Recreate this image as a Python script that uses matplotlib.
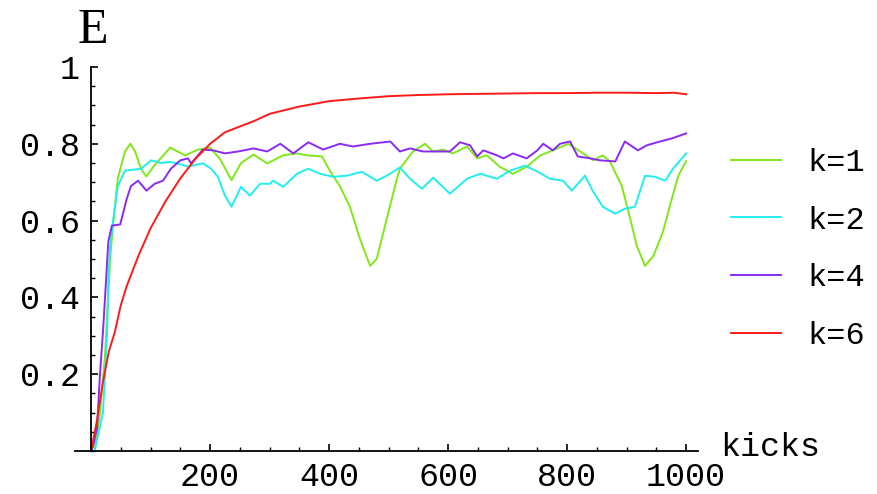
import matplotlib
matplotlib.use("Agg")
import matplotlib.pyplot as plt
from matplotlib.ticker import MultipleLocator, FixedLocator, FixedFormatter

# energy E versus number of kicks, for several k
x_k1 = [0, 6, 15, 23, 28, 32, 37, 45, 57, 66, 74, 84, 93, 107, 133, 158, 180, 200, 217, 236,
        252, 273, 296, 323, 346, 363, 388, 402, 418, 435, 452, 469, 480, 497, 514, 519, 541,
        561, 575, 592, 608, 632, 649, 665, 687, 709, 732, 755, 776, 802, 822, 844, 860, 872,
        892, 906, 917, 931, 945, 961, 976, 987, 1000]
y_k1 = [0, 0, 0.10, 0.24, 0.38, 0.50, 0.59, 0.71, 0.78, 0.80, 0.78, 0.735, 0.715, 0.745, 0.79,
        0.77, 0.785, 0.79, 0.76, 0.705, 0.75, 0.772, 0.749, 0.77, 0.775, 0.77, 0.767, 0.728,
        0.69, 0.636, 0.552, 0.482, 0.50, 0.605, 0.709, 0.735, 0.78, 0.80, 0.78, 0.785, 0.775,
        0.793, 0.762, 0.77, 0.74, 0.722, 0.74, 0.77, 0.783, 0.80, 0.78, 0.757, 0.77, 0.754,
        0.69, 0.605, 0.535, 0.482, 0.508, 0.57, 0.657, 0.717, 0.755]

x_k2 = [0, 6, 20, 27, 29, 32, 37, 45, 57, 84, 101, 118, 134, 163, 188, 202, 213, 225, 236, 252,
        267, 284, 301, 306, 323, 346, 365, 385, 407, 430, 455, 480, 497, 519, 536, 556, 575,
        603, 632, 654, 682, 704, 729, 750, 771, 793, 808, 830, 844, 860, 881, 897, 914, 931,
        948, 965, 978, 1000]
y_k2 = [0, 0, 0.10, 0.31, 0.44, 0.53, 0.60, 0.69, 0.73, 0.735, 0.757, 0.75, 0.753, 0.741, 0.749,
        0.735, 0.714, 0.665, 0.636, 0.688, 0.665, 0.696, 0.696, 0.704, 0.688, 0.722, 0.735,
        0.722, 0.714, 0.717, 0.727, 0.704, 0.717, 0.738, 0.709, 0.683, 0.712, 0.67, 0.709,
        0.722, 0.709, 0.73, 0.743, 0.728, 0.709, 0.704, 0.678, 0.717, 0.675, 0.636, 0.618,
        0.631, 0.636, 0.717, 0.714, 0.704, 0.735, 0.775]

x_k4 = [0, 3, 10, 15, 20, 25, 29, 35, 49, 54, 60, 67, 79, 93, 107, 121, 134, 150, 163, 168,
        188, 205, 225, 247, 273, 296, 318, 340, 365, 390, 418, 440, 469, 503, 519, 536, 558,
        587, 603, 620, 637, 649, 659, 682, 693, 709, 732, 750, 760, 776, 788, 805, 818, 839,
        855, 881, 897, 919, 934, 956, 976, 1000]
y_k4 = [0, 0.01, 0.06, 0.20, 0.31, 0.44, 0.545, 0.587, 0.59, 0.62, 0.657, 0.69, 0.704, 0.678,
        0.696, 0.704, 0.735, 0.757, 0.762, 0.749, 0.785, 0.783, 0.775, 0.78, 0.788, 0.78, 0.80,
        0.775, 0.804, 0.785, 0.80, 0.793, 0.80, 0.806, 0.78, 0.788, 0.78, 0.78, 0.78, 0.804,
        0.796, 0.767, 0.783, 0.77, 0.762, 0.775, 0.762, 0.783, 0.80, 0.783, 0.80, 0.806, 0.767,
        0.762, 0.757, 0.754, 0.806, 0.783, 0.796, 0.806, 0.814, 0.827]

x_k6 = [0, 10, 20, 30, 40, 50, 60, 80, 100, 125, 150, 175, 200, 225, 250, 275, 300, 350, 400,
        450, 500, 550, 600, 650, 700, 750, 800, 850, 900, 950, 980, 1000]
y_k6 = [0, 0.08, 0.18, 0.26, 0.31, 0.38, 0.43, 0.51, 0.58, 0.65, 0.71, 0.76, 0.80, 0.83, 0.845,
        0.86, 0.878, 0.897, 0.911, 0.918, 0.924, 0.927, 0.929, 0.930, 0.931, 0.932, 0.932,
        0.933, 0.933, 0.932, 0.933, 0.929]

series = [(x_k1, y_k1, "#80e81a", "k=1"),
          (x_k2, y_k2, "#22eeee", "k=2"),
          (x_k4, y_k4, "#8a2af5", "k=4"),
          (x_k6, y_k6, "#ff1a1a", "k=6")]

mono = "Liberation Mono"

fig = plt.figure(figsize=(8.77, 4.94), dpi=100)
ax = fig.add_axes([75 / 877, 43 / 494, 623 / 877, 384 / 494])

for xs, ys, col, lab in series:
    ax.plot(xs, ys, color=col, lw=1.4, label=lab, clip_on=False)

ax.set_xlim(-27, 1020)
ax.set_ylim(0, 1)

for s in ["top", "right"]:
    ax.spines[s].set_visible(False)
ax.spines["left"].set_position(("data", 0))
ax.spines["bottom"].set_position(("data", 0))
ax.spines["left"].set_linewidth(1.3)
ax.spines["bottom"].set_linewidth(1.3)

ax.xaxis.set_major_locator(FixedLocator([200, 400, 600, 800, 1000]))
ax.xaxis.set_major_formatter(FixedFormatter(["200", "400", "600", "800", "1000"]))
ax.xaxis.set_minor_locator(FixedLocator([50, 100, 150, 250, 300, 350, 450, 500, 550,
                                         650, 700, 750, 850, 900, 950]))
ax.yaxis.set_major_locator(FixedLocator([0.2, 0.4, 0.6, 0.8, 1.0]))
ax.yaxis.set_major_formatter(FixedFormatter(["0.2", "0.4", "0.6", "0.8", "1"]))
ax.yaxis.set_minor_locator(MultipleLocator(0.05))

ax.tick_params(which="major", direction="in", length=5, width=1.2, pad=8)
ax.tick_params(which="minor", direction="in", length=3, width=1.0)
for t in ax.get_xticklabels() + ax.get_yticklabels():
    t.set_fontfamily(mono)
    t.set_fontsize(24)

ax.text(1057, 0.01, "kicks", fontfamily=mono, fontsize=24, va="center", ha="left",
        clip_on=False)
fig.text(78 / 877, 1 - 43 / 494, "E", fontfamily="Liberation Serif", fontsize=36,
         va="baseline", ha="left")

leg = ax.legend(loc="center left", bbox_to_anchor=(731 / 877, 1 - 249.5 / 494),
                bbox_transform=fig.transFigure, frameon=False, borderpad=0,
                borderaxespad=0, handlelength=1.55, handletextpad=0.85,
                labelspacing=0.87, prop={"family": mono, "size": 23})

fig.savefig("out.png", dpi=100)
